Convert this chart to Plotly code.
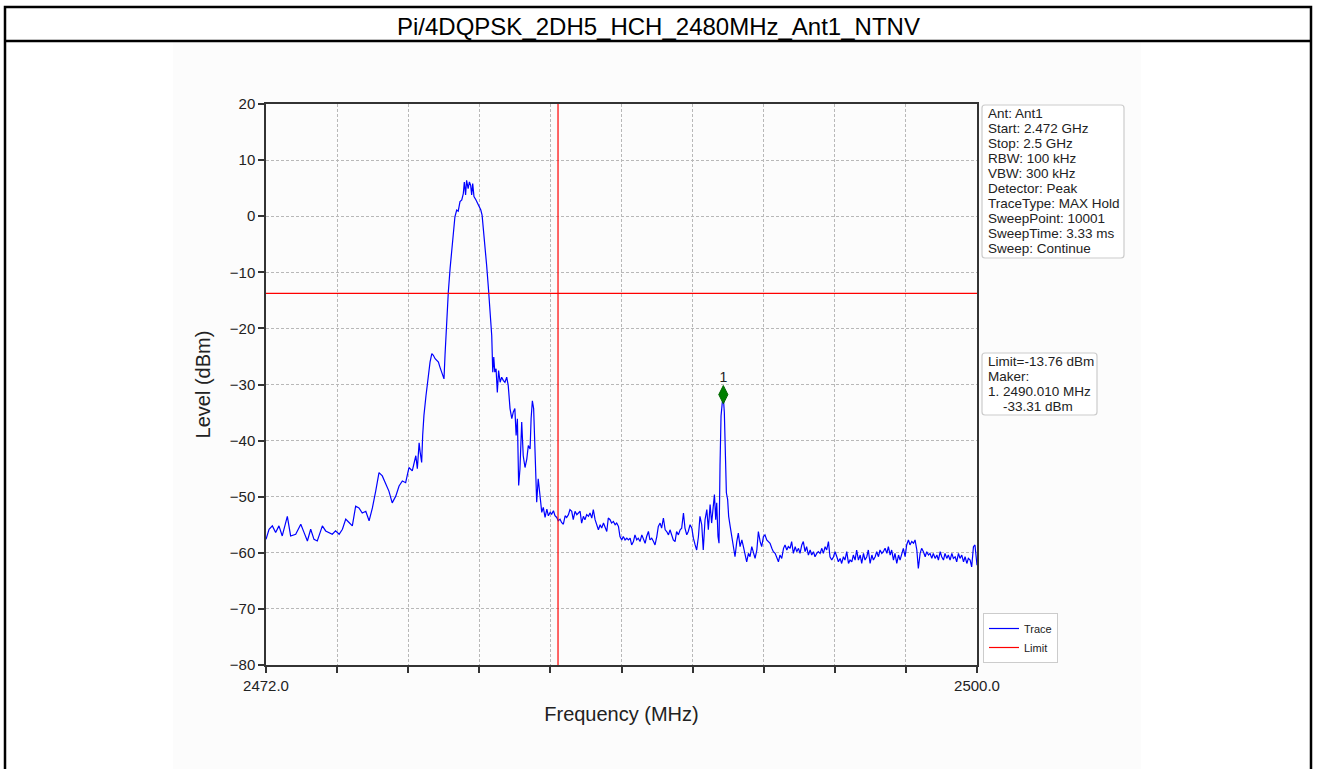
import plotly.graph_objects as go

# ---------------- data ----------------
freq_mhz = [
    2472.00, 2472.12, 2472.25, 2472.38, 2472.51, 2472.64, 2472.84, 2472.97, 2473.17, 2473.37,
    2473.50, 2473.63, 2473.76, 2473.89, 2474.02, 2474.22, 2474.35, 2474.48, 2474.61, 2474.74,
    2474.88, 2475.01, 2475.14, 2475.27, 2475.40, 2475.53, 2475.66, 2475.79, 2475.93, 2476.06,
    2476.19, 2476.32, 2476.45, 2476.58, 2476.71, 2476.84, 2476.97, 2477.11, 2477.24, 2477.37,
    2477.50, 2477.63, 2477.76, 2477.90, 2477.96, 2478.03,
    2478.07, 2478.13, 2478.17, 2478.22, 2478.30, 2478.39, 2478.46, 2478.53, 2478.59, 2478.66,
    2478.72, 2478.79, 2478.85, 2478.92, 2479.01, 2479.05, 2479.12, 2479.18, 2479.25, 2479.32,
    2479.38, 2479.44, 2479.51, 2479.57, 2479.64, 2479.71, 2479.77, 2479.81, 2479.86, 2479.90,
    2479.96, 2480.01, 2480.06, 2480.10, 2480.14, 2480.19, 2480.27, 2480.36, 2480.46, 2480.51,
    2480.56, 2480.63, 2480.69, 2480.76, 2480.82, 2480.89, 2480.93, 2480.97, 2481.01, 2481.06,
    2481.11, 2481.16, 2481.22, 2481.28, 2481.35, 2481.41, 2481.48, 2481.54, 2481.61, 2481.68,
    2481.74, 2481.80, 2481.85, 2481.90, 2481.95, 2482.00, 2482.07, 2482.13, 2482.20, 2482.27,
    2482.33, 2482.40, 2482.44, 2482.49, 2482.54, 2482.59, 2482.66, 2482.72, 2482.79, 2482.86,
    2482.92, 2482.99, 2483.06, 2483.12, 2483.19, 2483.25, 2483.32, 2483.38, 2483.45, 2483.51,
    2483.58, 2483.64, 2483.71, 2483.78, 2483.84,
    2483.91, 2483.97, 2484.04, 2484.10, 2484.17, 2484.24, 2484.30, 2484.37, 2484.43, 2484.50,
    2484.56, 2484.63, 2484.70, 2484.76, 2484.83, 2484.89, 2484.96, 2485.02, 2485.09, 2485.16,
    2485.22, 2485.29, 2485.35, 2485.42, 2485.48, 2485.55, 2485.61, 2485.68, 2485.75, 2485.81,
    2485.88, 2485.94, 2486.01, 2486.07, 2486.14, 2486.21, 2486.27, 2486.34, 2486.40, 2486.47,
    2486.53, 2486.60, 2486.66, 2486.73, 2486.80, 2486.86, 2486.93, 2486.99, 2487.06, 2487.12,
    2487.19, 2487.26, 2487.32, 2487.39, 2487.45, 2487.52, 2487.58, 2487.65, 2487.72, 2487.78,
    2487.85, 2487.91, 2487.98, 2488.04, 2488.11, 2488.17, 2488.24, 2488.31, 2488.37, 2488.44,
    2488.50, 2488.57, 2488.63, 2488.70, 2488.77, 2488.83, 2488.90, 2488.96, 2489.03, 2489.09,
    2489.16, 2489.22, 2489.29, 2489.36, 2489.42, 2489.49, 2489.55, 2489.62, 2489.66, 2489.71,
    2489.75, 2489.80, 2489.84, 2489.88, 2489.92, 2489.97, 2490.01, 2490.05, 2490.09, 2490.13,
    2490.18, 2490.22, 2490.28, 2490.34, 2490.41, 2490.47, 2490.54, 2490.60, 2490.67, 2490.74,
    2490.80, 2490.87, 2490.93, 2491.00, 2491.06, 2491.13, 2491.19, 2491.26, 2491.33, 2491.39,
    2491.46, 2491.52, 2491.59, 2491.65, 2491.72, 2491.79, 2491.85, 2491.92, 2491.98, 2492.05,
    2492.11, 2492.18, 2492.24, 2492.31, 2492.38, 2492.44, 2492.51, 2492.57, 2492.64, 2492.70,
    2492.77, 2492.84, 2492.90, 2492.97, 2493.03, 2493.10, 2493.16, 2493.23, 2493.29, 2493.36,
    2493.43, 2493.49, 2493.56, 2493.62, 2493.69, 2493.75, 2493.82, 2493.89, 2493.95, 2494.02,
    2494.08, 2494.15, 2494.21, 2494.28, 2494.35, 2494.41, 2494.48, 2494.54, 2494.61, 2494.67,
    2494.74, 2494.80, 2494.87, 2494.94, 2495.00, 2495.07, 2495.13, 2495.20, 2495.26, 2495.33,
    2495.40, 2495.46, 2495.53, 2495.59, 2495.66, 2495.72, 2495.79, 2495.86, 2495.92, 2495.99,
    2496.05, 2496.12, 2496.18, 2496.25, 2496.31, 2496.38, 2496.45, 2496.51, 2496.58, 2496.64,
    2496.71, 2496.77, 2496.84, 2496.91, 2496.97, 2497.04, 2497.10, 2497.17, 2497.23, 2497.30,
    2497.36, 2497.43, 2497.50, 2497.56, 2497.63, 2497.69, 2497.76, 2497.82, 2497.89, 2497.96,
    2498.02, 2498.09, 2498.15, 2498.22, 2498.28, 2498.35, 2498.42, 2498.48, 2498.55, 2498.61,
    2498.68, 2498.74, 2498.81, 2498.87, 2498.94, 2499.01, 2499.07, 2499.14, 2499.20, 2499.27,
    2499.33, 2499.40, 2499.47, 2499.53, 2499.60, 2499.66, 2499.73, 2499.79, 2499.86, 2499.92,
    2500.00,
]

level_dbm = [
    -57.6, -55.8, -55.2, -56.4, -55.2, -57.0, -53.5, -57.0, -56.7, -54.9,
    -56.4, -57.9, -55.8, -57.6, -57.9, -55.2, -56.1, -56.4, -56.7, -56.1,
    -56.7, -55.8, -54.0, -54.6, -55.2, -51.7, -52.0, -52.9, -52.6, -54.3,
    -52.0, -49.0, -45.7, -46.3, -47.8, -49.0, -51.1, -49.9, -48.1, -47.2,
    -47.5, -44.8, -45.4, -42.7, -45.0, -40.4,
    -42.0, -43.9, -39.1, -35.5, -32.0, -28.4, -26.0, -24.5, -24.8, -25.4,
    -25.7, -26.0, -26.9, -27.8, -29.0, -24.8, -18.3, -13.5, -9.3, -5.8,
    -3.4, -0.1, 1.1, 0.9, 2.6, 2.9, 4.0, 6.1, 3.8, 6.4,
    4.9, 6.1, 5.5, 3.8, 5.8, 3.5, 2.9, 2.0, 1.1, 0.2,
    -2.2, -5.2, -8.8, -12.9, -16.5, -21.3, -27.8, -25.1, -27.8, -27.2,
    -31.4, -27.5, -29.6, -28.7, -29.3, -29.6, -28.7, -30.2, -34.3, -36.1,
    -34.9, -34.3, -39.1, -36.1, -48.0, -45.1, -36.7, -42.7, -44.8, -43.3,
    -40.9, -41.5, -36.1, -32.9, -34.3, -40.3, -51.0, -46.8, -50.4, -52.8,
    -51.9, -53.7, -52.2, -53.4, -52.8, -53.1, -52.5, -53.4, -53.7, -54.3,
    -54.0, -54.6, -54.9, -53.4, -53.7,
    -53.2, -52.3, -52.6, -54.1, -52.6, -53.2, -52.9, -52.6, -54.7, -53.5,
    -54.1, -53.2, -53.5, -52.9, -53.8, -52.3, -54.1, -55.0, -55.9, -55.0,
    -55.6, -54.7, -55.3, -56.2, -53.8, -54.1, -54.7, -54.4, -55.0, -54.7,
    -55.3, -57.1, -57.7, -57.1, -57.7, -57.4, -57.7, -57.4, -58.6, -58.0,
    -56.8, -57.7, -57.4, -58.0, -56.8, -57.7, -58.3, -57.1, -56.2, -57.7,
    -57.4, -58.0, -58.6, -57.1, -55.3, -54.7, -55.6, -53.8, -55.9, -56.2,
    -56.8, -55.9, -56.8, -57.7, -58.0, -56.2, -56.8, -55.9, -55.6, -52.9,
    -55.6, -56.8, -56.2, -55.0, -55.6, -57.4, -58.6, -59.5, -57.1, -53.5,
    -55.0, -59.5, -54.1, -52.3, -55.9, -51.4, -54.7, -50.5, -49.6, -54.1,
    -51.1, -57.1, -58.3, -44.5, -35.6, -33.2, -32.3, -35.0, -45.7, -49.3,
    -50.5, -53.5, -55.3, -57.1, -58.9, -60.7, -58.0, -56.5, -58.9, -57.7,
    -58.9, -60.1, -61.6, -60.1, -60.7, -58.9, -59.8, -61.0, -59.5, -56.2,
    -58.0, -58.9, -57.1, -56.8, -57.7, -58.0, -58.3, -59.2, -59.8, -60.1,
    -60.7, -61.6, -60.4, -61.0, -59.2, -58.6, -59.5, -58.9, -59.2, -58.0,
    -60.1, -58.9, -59.8, -59.2, -60.1, -58.6, -58.0, -59.8, -58.9, -60.4,
    -59.5, -60.4, -59.8, -60.7, -60.1, -59.8, -60.1, -59.2, -60.1, -58.9,
    -59.5, -58.0, -60.7, -61.3, -60.7, -59.8, -60.7, -61.6, -61.0, -61.9,
    -60.7, -61.3, -59.8, -61.9, -61.3, -61.6, -60.4, -61.3, -59.5, -61.3,
    -60.4, -61.9, -60.1, -61.3, -60.7, -59.5, -61.9, -60.4, -61.3, -60.7,
    -59.8, -60.7, -59.5, -60.1, -59.8, -59.2, -60.1, -58.9, -60.4, -59.5,
    -61.3, -60.1, -61.9, -60.4, -61.3, -60.1, -59.2, -60.7, -58.6, -57.7,
    -58.6, -58.0, -58.3, -57.7, -59.5, -62.8, -60.1, -59.2, -59.8, -60.7,
    -59.8, -60.4, -60.1, -61.0, -60.1, -61.0, -60.4, -61.3, -59.8, -60.7,
    -61.3, -60.1, -61.0, -60.4, -61.3, -60.1, -61.0, -60.7, -61.6, -60.1,
    -61.0, -60.4, -61.6, -60.7, -61.9, -61.0, -61.3, -62.5, -58.9, -58.6,
    -62.2,
]

limit_dbm = -13.76
band_edge_mhz = 2483.5
marker_freq = 2490.01
marker_level = -31.8
marker_label = "1"

x_tick_vals = [2472.0, 2474.8, 2477.6, 2480.4, 2483.2, 2486.0, 2488.8, 2491.6, 2494.4, 2497.2, 2500.0]
x_tick_text = ["2472.0", "", "", "", "", "", "", "", "", "", "2500.0"]
y_tick_vals = [-80, -70, -60, -50, -40, -30, -20, -10, 0, 10, 20]

title_text = "Pi/4DQPSK_2DH5_HCH_2480MHz_Ant1_NTNV"
info_lines = [
    "Ant: Ant1", "Start: 2.472 GHz", "Stop: 2.5 GHz", "RBW: 100 kHz", "VBW: 300 kHz",
    "Detector: Peak", "TraceType: MAX Hold", "SweepPoint: 10001", "SweepTime: 3.33 ms",
    "Sweep: Continue",
]
marker_lines = ["Limit=-13.76 dBm", "Maker:", "1. 2490.010 MHz", "\u00a0\u00a0\u00a0\u00a0-33.31 dBm"]

# ---------------- layout geometry (pixels) ----------------
W, H = 1318, 769
PL, PR, PT, PB = 266, 977, 104, 665  # plot area box


def px(x):
    return (x - PL) / (PR - PL)


def py(y):
    return (PB - y) / (PB - PT)


def rounded_box(x0, y0, x1, y1, r=3):
    # rounded rectangle path in paper coordinates, built from pixel corners
    pts = [
        f"M{px(x0 + r)},{py(y0)}", f"L{px(x1 - r)},{py(y0)}",
        f"Q{px(x1)},{py(y0)} {px(x1)},{py(y0 + r)}", f"L{px(x1)},{py(y1 - r)}",
        f"Q{px(x1)},{py(y1)} {px(x1 - r)},{py(y1)}", f"L{px(x0 + r)},{py(y1)}",
        f"Q{px(x0)},{py(y1)} {px(x0)},{py(y1 - r)}", f"L{px(x0)},{py(y0 + r)}",
        f"Q{px(x0)},{py(y0)} {px(x0 + r)},{py(y0)}", "Z",
    ]
    return dict(type="path", xref="paper", yref="paper", path=" ".join(pts),
                fillcolor="#ffffff", line=dict(color="#cccccc", width=1.2))


FONT = "Liberation Sans, Arial, sans-serif"

fig = go.Figure()

fig.add_trace(go.Scatter(
    x=freq_mhz, y=level_dbm, mode="lines", name="Trace",
    line=dict(color="#0000ff", width=1.2),
))
fig.add_trace(go.Scatter(
    x=[x_tick_vals[0], x_tick_vals[-1]], y=[limit_dbm, limit_dbm], mode="lines",
    name="Limit", line=dict(color="#ff0000", width=1.2),
))
fig.add_trace(go.Scatter(
    x=[band_edge_mhz, band_edge_mhz], y=[y_tick_vals[0], y_tick_vals[-1]], mode="lines",
    showlegend=False, line=dict(color="#ff0000", width=1.2),
))
fig.add_trace(go.Scatter(
    x=[marker_freq], y=[marker_level], mode="markers+text", text=[marker_label],
    textposition="top center", showlegend=False,
    textfont=dict(family=FONT, size=14, color="#222222"),
    marker=dict(symbol="diamond-tall", size=13, color="#008000",
                line=dict(color="#006400", width=1)),
))

shapes = [
    # light figure background behind the chart image
    dict(type="rect", xref="paper", yref="paper", x0=px(173), x1=px(1141), y0=py(790), y1=py(42),
         fillcolor="#fcfcfc", line=dict(width=0), layer="below"),
    # outer frame
    dict(type="rect", xref="paper", yref="paper", x0=px(5), x1=px(1311), y0=py(800), y1=py(7),
         fillcolor="rgba(0,0,0,0)", line=dict(color="#000000", width=2.5)),
    # title separator
    dict(type="line", xref="paper", yref="paper", x0=px(5), x1=px(1311), y0=py(41), y1=py(41),
         line=dict(color="#000000", width=2.5)),
    # info boxes
    rounded_box(982, 105, 1124, 258),
    rounded_box(982, 353, 1097, 415),
]

annotations = [
    dict(text=title_text, xref="paper", yref="paper", x=px(658), y=py(26),
         xanchor="center", yanchor="middle", showarrow=False,
         font=dict(family=FONT, size=24, color="#000000")),
]
for i, line in enumerate(info_lines):
    annotations.append(dict(
        text=line, xref="paper", yref="paper", x=px(986), y=py(113.3 + 15.0 * i),
        xanchor="left", yanchor="middle", showarrow=False,
        font=dict(family=FONT, size=13.5, color="#222222")))
for i, line in enumerate(marker_lines):
    annotations.append(dict(
        text=line, xref="paper", yref="paper", x=px(986), y=py(361.5 + 15.0 * i),
        xanchor="left", yanchor="middle", showarrow=False,
        font=dict(family=FONT, size=13.5, color="#222222")))

fig.update_layout(
    width=W, height=H,
    margin=dict(l=PL, r=W - PR, t=PT, b=H - PB),
    paper_bgcolor="#ffffff", plot_bgcolor="#ffffff",
    font=dict(family=FONT, color="#222222"),
    shapes=shapes, annotations=annotations,
    showlegend=True,
    legend=dict(x=px(983), y=py(663), xanchor="left", yanchor="bottom",
                bgcolor="#ffffff", bordercolor="#cccccc", borderwidth=1,
                font=dict(family=FONT, size=11, color="#222222"),
                tracegroupgap=0, itemwidth=30),
)

fig.update_xaxes(
    range=[x_tick_vals[0], x_tick_vals[-1]],
    tickmode="array", tickvals=x_tick_vals, ticktext=x_tick_text,
    ticks="outside", ticklen=6, tickwidth=1.5, tickcolor="#333333",
    tickfont=dict(family=FONT, size=15, color="#222222"),
    showline=True, linecolor="#333333", linewidth=1.5, mirror=True,
    showgrid=True, gridcolor="#b8b8b8", gridwidth=0.8, griddash="3px,2px",
    zeroline=False,
    title=dict(text="Frequency (MHz)", font=dict(family=FONT, size=20, color="#222222"), standoff=14),
)
fig.update_yaxes(
    range=[y_tick_vals[0], y_tick_vals[-1]],
    tickmode="array", tickvals=y_tick_vals,
    ticks="outside", ticklen=6, tickwidth=1.5, tickcolor="#333333",
    tickfont=dict(family=FONT, size=15, color="#222222"),
    showline=True, linecolor="#333333", linewidth=1.5, mirror=True,
    showgrid=True, gridcolor="#b8b8b8", gridwidth=0.8, griddash="3px,2px",
    zeroline=False,
    title=dict(text="Level (dBm)", font=dict(family=FONT, size=20, color="#222222"), standoff=14),
)

fig.write_html("out.html", config={"displayModeBar": False},
               post_script="document.body.style.margin='0px';")
